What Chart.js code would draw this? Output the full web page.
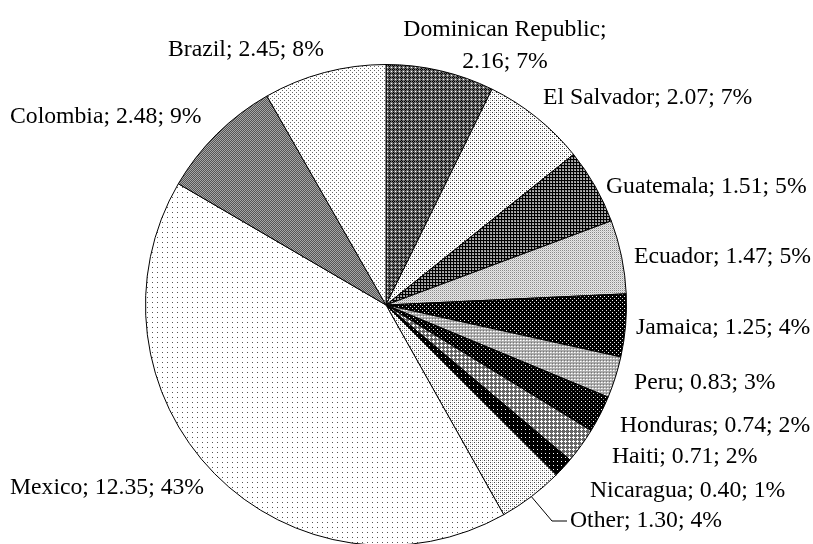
<!DOCTYPE html>
<html>
<head>
<meta charset="utf-8">
<script src="https://cdn.jsdelivr.net/npm/chart.js@4/dist/chart.umd.min.js"></script>
<style>
  html, body { margin: 0; padding: 0; background: #fff; overflow: hidden; }
  #wrap { width: 813px; height: 544px; overflow: hidden; position: relative; }
  canvas { position: absolute; left: 0; top: 0; }
</style>
</head>
<body>
<div id="wrap"><canvas id="pie" width="813" height="620"></canvas></div>
<script>
const countries = ["Dominican Republic", "El Salvador", "Guatemala", "Ecuador", "Jamaica", "Peru",
  "Honduras", "Haiti", "Nicaragua", "Other", "Mexico", "Colombia", "Brazil"];
const amounts = [2.16, 2.07, 1.51, 1.47, 1.25, 0.83, 0.74, 0.71, 0.40, 1.30, 12.35, 2.48, 2.45];
const shares = [7, 7, 5, 5, 4, 3, 2, 2, 1, 4, 43, 9, 8];

// where each label sits: [x, y, align]
const labelAnchor = [
  [505, 30, "center"], [543, 98, "left"], [606, 187, "left"], [634, 257, "left"],
  [636, 328, "left"], [634, 383, "left"], [620, 426, "left"], [612, 457, "left"],
  [590, 491, "left"], [570, 521, "left"], [10, 488, "left"], [10, 117, "left"], [168, 50, "left"]
];

// small bitmap tiles used as black & white fill patterns
function tile(size, bg, pixels) {
  const c = document.createElement("canvas");
  c.width = c.height = size;
  const g = c.getContext("2d");
  g.fillStyle = bg;
  g.fillRect(0, 0, size, size);
  pixels.forEach(([x, y, col]) => { g.fillStyle = col; g.fillRect(x, y, 1, 1); });
  return g.createPattern(c, "repeat");
}

const fills = [
  tile(4, "#6e6e6e", [[1,0,"#000"],[0,1,"#000"],[2,1,"#000"],[1,2,"#000"],[3,3,"#fff"]]),
  tile(4, "#fff", [[0,0,"#333"],[2,2,"#333"],[2,0,"#bbb"],[0,2,"#ddd"]]),
  tile(3, "#000", [[1,1,"#9a9a9a"],[2,1,"#9a9a9a"],[1,2,"#9a9a9a"],[2,2,"#bbb"]]),
  tile(2, "#e6e6e6", [[0,0,"#888"],[1,1,"#c8c8c8"]]),
  tile(4, "#000", [[0,0,"#fff"],[2,2,"#ddd"]]),
  tile(3, "#aaa", [[1,1,"#fff"],[0,0,"#777"],[2,1,"#ddd"]]),
  tile(4, "#000", [[1,1,"#fff"],[3,3,"#888"]]),
  tile(4, "#666", [[1,0,"#fff"],[0,1,"#fff"],[1,1,"#fff"],[2,1,"#fff"],[1,2,"#fff"]]),
  tile(4, "#000", [[1,1,"#fff"]]),
  tile(4, "#fff", [[0,0,"#444"],[2,2,"#444"],[2,0,"#bbb"],[0,2,"#bbb"]]),
  tile(5, "#fff", [[2,2,"#555"]]),
  tile(2, "#555", [[0,0,"#a6a6a6"],[1,1,"#a6a6a6"]]),
  tile(4, "#fff", [[0,0,"#666"],[2,2,"#666"]])
];

const pieLabels = {
  id: "pieLabels",
  afterDraw(chart) {
    const ctx = chart.ctx;
    const arcs = chart.getDatasetMeta(0).data;
    ctx.save();
    ctx.font = "23.7px 'Liberation Serif', 'Times New Roman', serif";
    ctx.fillStyle = "#000";
    ctx.textBaseline = "middle";
    countries.forEach((name, i) => {
      const [x, y, align] = labelAnchor[i];
      const val = amounts[i].toFixed(2) + "; " + shares[i] + "%";
      ctx.textAlign = align;
      if (align === "center") {
        ctx.fillText(name + ";", x, y);
        ctx.fillText(val, x, y + 32);
      } else {
        ctx.fillText(name + "; " + val, x, y);
      }
    });
    // leader line for the "Other" slice
    const a = arcs[countries.indexOf("Other")];
    const mid = (a.startAngle + a.endAngle) / 2;
    const sx = a.x + Math.cos(mid) * a.outerRadius;
    const sy = a.y + Math.sin(mid) * a.outerRadius;
    const [lx, ly] = labelAnchor[countries.indexOf("Other")];
    ctx.strokeStyle = "#000";
    ctx.lineWidth = 1;
    ctx.beginPath();
    ctx.moveTo(sx, sy);
    ctx.lineTo(lx - 18, ly);
    ctx.lineTo(lx - 3, ly);
    ctx.stroke();
    ctx.restore();
  }
};

new Chart(document.getElementById("pie"), {
  type: "pie",
  data: {
    labels: countries,
    datasets: [{
      data: amounts,
      backgroundColor: fills,
      borderColor: "#000",
      borderWidth: 1
    }]
  },
  options: {
    responsive: false,
    animation: false,
    layout: { padding: { left: 145, right: 186, top: 64, bottom: 74 } },
    plugins: { legend: { display: false }, tooltip: { enabled: false } }
  },
  plugins: [pieLabels]
});
</script>
</body>
</html>
